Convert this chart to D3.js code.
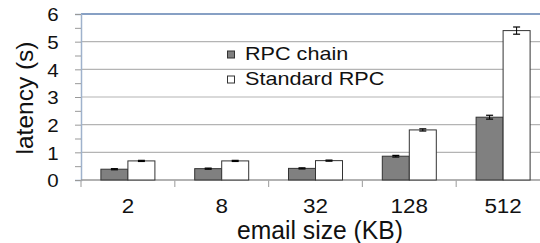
<!DOCTYPE html>
<html><head><meta charset="utf-8">
<script src="https://cdn.jsdelivr.net/npm/d3@7"></script>
<style>html,body{margin:0;padding:0;background:#fff;overflow:hidden}</style>
</head><body>
<svg id="c" width="540" height="243"></svg>
<script>
const categories = ["2", "8", "32", "128", "512"];
const seriesNames = ["RPC chain", "Standard RPC"];
const rpcChain = [0.39, 0.41, 0.42, 0.86, 2.27];
const rpcChainErr = [0.02, 0.02, 0.02, 0.03, 0.07];
const standardRpc = [0.69, 0.69, 0.70, 1.81, 5.40];
const standardRpcErr = [0.02, 0.02, 0.02, 0.04, 0.13];
const yTicks = [0, 1, 2, 3, 4, 5, 6];

(function () {
const svg = d3.select("#c");
const font = "Liberation Sans, Arial, sans-serif";
const mLeft = 81, mRight = 550, mTop = 14, mBottom = 180;

const x = d3.scaleBand().domain(categories).range([mLeft, mRight]).padding(0);
const x1 = d3.scaleBand().domain(seriesNames).range([0, x.bandwidth()]).paddingInner(0).paddingOuter(0.737);
const y = d3.scaleLinear().domain([0, 6]).range([mBottom, mTop]);

// gridlines
svg.append("g").selectAll("line").data(yTicks.filter(d => d > 0)).join("line")
  .attr("x1", mLeft).attr("x2", mRight)
  .attr("y1", d => y(d)).attr("y2", d => y(d))
  .attr("stroke", d => d === 6 ? "#87a0c4" : "#b4b4b4").attr("stroke-width", d => d === 6 ? 2 : 1.2);

// y axis
const yAxis = d3.axisLeft(y).tickValues(d3.range(0, 6.01, 0.5)).tickSize(6).tickFormat(d => Number.isInteger(d) ? d : "");
const gy = svg.append("g").attr("transform", `translate(${mLeft},0)`).call(yAxis);
gy.select(".domain").attr("stroke", "#9fb2cc").attr("stroke-width", 1.5);
gy.selectAll(".tick line").attr("stroke", "#999");
gy.selectAll(".tick text").attr("font-family", font).attr("font-size", 19).attr("fill", "#111")
  .attr("text-anchor", "middle").attr("x", 0).attr("dy", "0.36em")
  .attr("transform", "translate(-28,0) scale(1.08,1)");

// x axis
const gx = svg.append("g").attr("transform", `translate(0,${mBottom})`);
gx.append("line").attr("x1", mLeft).attr("x2", mRight).attr("stroke", "#999").attr("stroke-width", 1.5);
gx.selectAll("line.tk").data(categories).join("line").attr("class", "tk")
  .attr("x1", d => x(d)).attr("x2", d => x(d)).attr("y1", 0).attr("y2", 7)
  .attr("stroke", "#aaa").attr("stroke-width", 1.2);
gx.selectAll("text").data(categories).join("text")
  .attr("transform", d => `translate(${x(d) + x.bandwidth() / 2},32.5) scale(1.15,1)`)
  .attr("text-anchor", "middle").attr("font-family", font).attr("font-size", 19.5).attr("fill", "#111").text(d => d);

// bars
const data = [
  { name: seriesNames[0], vals: rpcChain, errs: rpcChainErr, fill: "#808080" },
  { name: seriesNames[1], vals: standardRpc, errs: standardRpcErr, fill: "#ffffff" }
];
data.forEach(s => {
  const g = svg.append("g");
  g.selectAll("rect").data(categories).join("rect")
    .attr("x", (c) => x(c) + x1(s.name))
    .attr("y", (c, i) => y(s.vals[i]))
    .attr("width", x1.bandwidth())
    .attr("height", (c, i) => y(0) - y(s.vals[i]))
    .attr("fill", s.fill).attr("stroke", "#333").attr("stroke-width", 1);
  categories.forEach((c, i) => {
    const cx = x(c) + x1(s.name) + x1.bandwidth() / 2;
    const y1 = y(s.vals[i] + s.errs[i]), y2 = y(s.vals[i] - s.errs[i]);
    g.append("line").attr("x1", cx).attr("x2", cx).attr("y1", y1).attr("y2", y2).attr("stroke", "#000").attr("stroke-width", 1);
    [y1, y2].forEach(yy => g.append("line").attr("x1", cx - 3.5).attr("x2", cx + 3.5).attr("y1", yy).attr("y2", yy).attr("stroke", "#000").attr("stroke-width", 1.2));
  });
});

// legend
const leg = svg.append("g");
data.forEach((s, i) => {
  const ly = 51 + i * 25;
  leg.append("rect").attr("x", 227.5).attr("y", ly).attr("width", 7).attr("height", 7)
    .attr("fill", s.fill).attr("stroke", "#333").attr("stroke-width", 1);
  leg.append("text").attr("transform", `translate(245,${ly + 8.5}) scale(1.2,1)`).attr("font-family", font).attr("font-size", 18)
    .attr("fill", "#111").text(s.name);
});

// axis titles
svg.append("text").attr("transform", "translate(33,98) rotate(-90)").attr("text-anchor", "middle")
  .attr("font-family", font).attr("font-size", 24.5).attr("fill", "#111").text("latency (s)");
svg.append("text").attr("transform", "translate(320,238.5) scale(0.95,1)").attr("text-anchor", "middle")
  .attr("font-family", font).attr("font-size", 26).attr("fill", "#111").text("email size (KB)");
})();
</script>
</body></html>
